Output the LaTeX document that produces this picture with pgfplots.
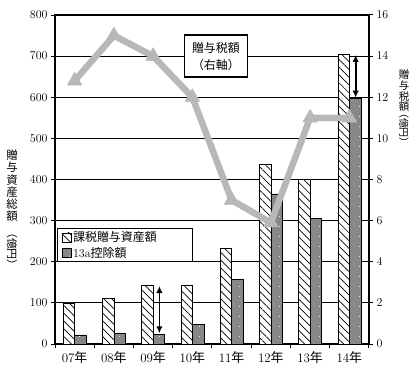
\documentclass[border=0pt]{standalone}
\usepackage{fontspec}
\usepackage{pgfplots}
\pgfplotsset{compat=1.18}
\usetikzlibrary{patterns.meta,arrows.meta}
\newfontfamily\jp{Noto Sans CJK JP}

\definecolor{barfill}{RGB}{135,135,135}
\definecolor{linegray}{RGB}{184,184,184}

% gift assets (left axis, 億円)
\pgfplotstableread{
idx gift deduct
0 100 22
1 110 25
2 143 24
3 143 47
4 233 157
5 437 365
6 400 305
7 705 597
}\assets

% gift tax (right axis, 億円)
\pgfplotstableread{
idx tax
0 12.8
1 15.0
2 14.0
3 12.0
4 7.0
5 5.9
6 11.0
7 11.0
}\taxdata

\pgfplotsset{
  swatch/.style={legend image code/.code={%
    \draw[##1,line width=0.6bp] (0bp,-4.5bp) rectangle (9bp,4.5bp);}},
  common/.style={
    at={(55bp,22bp)}, anchor=south west,
    scale only axis, width=314bp, height=329bp,
    xmin=-0.5, xmax=7.5,
    axis line style={line width=1.3bp},
    tick style={black, line width=1bp},
    tick align=outside, major tick length=4bp, minor tick length=4bp,
    yticklabel style={font=\fontsize{13}{14}\selectfont},
  },
}

\begin{document}
\begin{tikzpicture}
\begin{axis}[common,
  ymin=0, ymax=800,
  ytick={0,100,...,800}, ytick pos=left,
  ymajorgrids, grid style={black, line width=1bp},
  xtick={0,...,7}, xtick pos=bottom,
  xticklabels={07{\jp 年},08{\jp 年},09{\jp 年},10{\jp 年},11{\jp 年},12{\jp 年},13{\jp 年},14{\jp 年}},
  xticklabel style={font=\fontsize{13}{14}\selectfont},
  major x tick style={draw=none},
  minor xtick={-0.5,0.5,1.5,2.5,3.5,4.5,5.5,6.5,7.5},
  ybar=0pt, bar width=11.5bp,
  legend style={at={(0.006,0.3526)}, anchor=north west, draw=black,
    line width=1.3bp, fill=white, row sep=0bp,
    inner xsep=4bp, inner ysep=1bp,
    font=\jp\fontsize{12}{14}\selectfont, cells={anchor=west}},
  legend cell align=left,
]
\addplot[swatch, draw=black, line width=0.7bp, fill=white,
  postaction={pattern={Lines[angle=-45,distance=5.5bp,line width=0.7bp]}, pattern color=black}]
  table[x=idx,y=gift]{\assets};
\addlegendentry{課税贈与資産額\hspace*{30bp}}
\addplot[swatch, draw=black, line width=0.7bp, fill=barfill,
  postaction={pattern={Dots[distance=10bp,radius=0.55bp]}, pattern color=white}]
  table[x=idx,y=deduct]{\assets};
\addlegendentry{{\fontspec{Latin Modern Roman}13a}控除額}

% gap between taxable gifts and the 13a deduction
\draw[{Latex[length=7bp,width=6.5bp]}-{Latex[length=7bp,width=6.5bp]}, line width=1.8bp]
  (axis cs:2.16,141) -- (axis cs:2.16,26);
\draw[{Latex[length=7bp,width=6.5bp]}-{Latex[length=7bp,width=6.5bp]}, line width=1.8bp]
  (axis cs:7.16,703) -- (axis cs:7.16,599);

\node[draw=black, line width=1.3bp, fill=white, align=center,
  font=\jp\fontsize{12}{17}\selectfont, minimum width=63bp, minimum height=42bp, inner sep=2bp]
  at (axis cs:3.6,700) {贈与税額\\（右軸）};
\end{axis}

\begin{axis}[common,
  ymin=0, ymax=16,
  ytick={0,2,...,16},
  axis y line*=right, axis x line=none,
]
\addplot[linegray, line width=6.5bp, line join=round, mark=triangle*, mark size=8.5bp,
  mark options={solid, line width=0.5bp, fill=linegray, draw=linegray}]
  table[x=idx,y=tax]{\taxdata};
\end{axis}

% axis titles, set vertically
\node[anchor=north, align=center, inner sep=0pt, font=\jp\fontsize{11.5}{12.2}\selectfont]
  at (12bp,216bp) {贈\\与\\資\\産\\総\\額};
\node[rotate=-90, inner sep=0pt, font=\jp\fontsize{11}{12}\selectfont]
  at (12bp,117bp) {（億円）};
\node[anchor=north, align=center, inner sep=0pt, font=\jp\fontsize{10.5}{10.6}\selectfont]
  at (404bp,296bp) {贈\\与\\税\\額};
\node[rotate=-90, inner sep=0pt, font=\jp\fontsize{10}{11}\selectfont]
  at (404bp,238bp) {（億円）};

\pgfresetboundingbox
\path (0bp,0bp) rectangle (411bp,366bp);
\end{tikzpicture}
\end{document}
